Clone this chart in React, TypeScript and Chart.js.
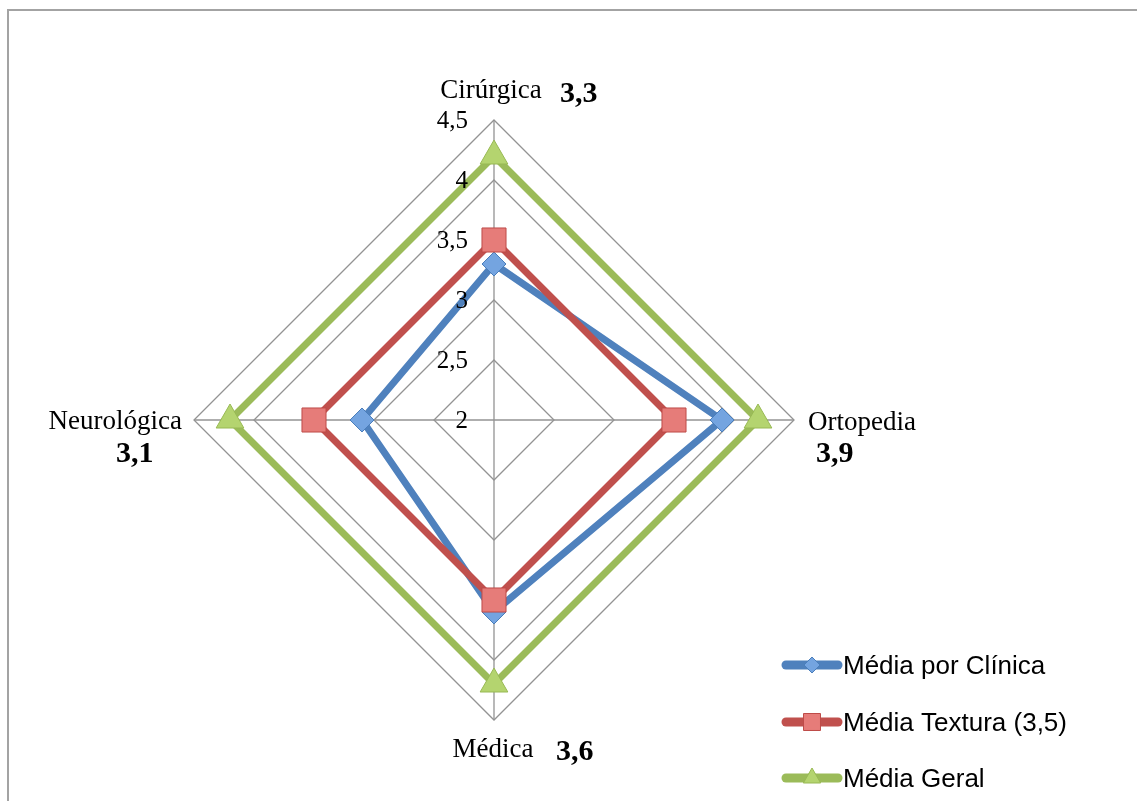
import React, { useEffect, useRef } from "react";
import { Chart, registerables } from "chart.js";

Chart.register(...registerables);

const categories = ["Cirúrgica", "Ortopedia", "Médica", "Neurológica"];
const categoryValueLabels = ["3,3", "3,9", "3,6", "3,1"];
const seriesNames = ["Média por Clínica", "Média Textura (3,5)", "Média Geral"];
const mediaPorClinica = [3.3, 3.9, 3.6, 3.1];
const mediaTextura = [3.5, 3.5, 3.5, 3.5];
const mediaGeral = [4.2, 4.2, 4.2, 4.2];
const tickValues = [2, 2.5, 3, 3.5, 4, 4.5];
const tickLabels = ["2", "2,5", "3", "3,5", "4", "4,5"];

const lineColors = ["#4F81BD", "#C0504D", "#9BBB59"];
const markerFills = ["#74A4E0", "#E67C79", "#B4D46F"];
const markerBorders = ["#4A7EBB", "#BE4B48", "#98B954"];
const markerStyles = ["rectRot", "rect", "triangle"];
const markerRadii = [12, 17, 16];

const SERIF = "'Liberation Serif', 'Times New Roman', serif";
const SANS = "'Liberation Sans', Arial, sans-serif";

function drawMarker(ctx: CanvasRenderingContext2D, style: string, x: number, y: number, r: number) {
  ctx.beginPath();
  if (style === "rectRot") {
    ctx.moveTo(x, y - r);
    ctx.lineTo(x + r, y);
    ctx.lineTo(x, y + r);
    ctx.lineTo(x - r, y);
    ctx.closePath();
  } else if (style === "rect") {
    const s = r * Math.SQRT1_2;
    ctx.rect(x - s, y - s, 2 * s, 2 * s);
  } else {
    for (let k = 0; k < 3; k++) {
      const a = (k * 2 * Math.PI) / 3;
      const px = x + Math.sin(a) * r;
      const py = y - Math.cos(a) * r;
      if (k === 0) ctx.moveTo(px, py);
      else ctx.lineTo(px, py);
    }
    ctx.closePath();
  }
  ctx.fill();
  ctx.stroke();
}

const overlayPlugin = {
  id: "overlay",
  afterDraw(chart: any) {
    const ctx: CanvasRenderingContext2D = chart.ctx;
    const scale = chart.scales.r;
    const cx = scale.xCenter;
    const cy = scale.yCenter;
    const R = scale.drawingArea;
    ctx.save();

    // frame
    ctx.strokeStyle = "#A3A3A3";
    ctx.lineWidth = 2;
    ctx.strokeRect(8, 10, 2000, 2000);

    // tick labels
    ctx.fillStyle = "#000";
    ctx.font = `25px ${SERIF}`;
    ctx.textAlign = "right";
    ctx.textBaseline = "middle";
    tickValues.forEach((v, i) => {
      const d = scale.getDistanceFromCenterForValue(v);
      ctx.fillText(tickLabels[i], cx - 26, cy - d + 1);
    });

    // point labels + bold values
    const regular = `27px ${SERIF}`;
    const bold = `bold 30px ${SERIF}`;
    ctx.textBaseline = "alphabetic";
    // top
    let p = scale.getPointPosition(0, R);
    ctx.font = regular;
    ctx.textAlign = "center";
    ctx.fillText(categories[0], p.x - 3, p.y - 22);
    ctx.font = bold;
    ctx.textAlign = "left";
    ctx.fillText(categoryValueLabels[0], p.x + 66, p.y - 18);
    // right
    p = scale.getPointPosition(1, R);
    ctx.font = regular;
    ctx.textAlign = "left";
    ctx.fillText(categories[1], p.x + 14, p.y + 10);
    ctx.font = bold;
    ctx.fillText(categoryValueLabels[1], p.x + 22, p.y + 42);
    // bottom
    p = scale.getPointPosition(2, R);
    ctx.font = regular;
    ctx.textAlign = "center";
    ctx.fillText(categories[2], p.x - 1, p.y + 37);
    ctx.font = bold;
    ctx.textAlign = "left";
    ctx.fillText(categoryValueLabels[2], p.x + 62, p.y + 40);
    // left
    p = scale.getPointPosition(3, R);
    ctx.font = regular;
    ctx.textAlign = "right";
    ctx.fillText(categories[3], p.x - 12, p.y + 9);
    ctx.font = bold;
    ctx.textAlign = "left";
    ctx.fillText(categoryValueLabels[3], p.x - 78, p.y + 42);

    // legend
    const rows = [665, 722, 778];
    chart.data.datasets.forEach((ds: any, i: number) => {
      const y = rows[i];
      ctx.strokeStyle = lineColors[i];
      ctx.lineWidth = 9;
      ctx.lineCap = "round";
      ctx.beginPath();
      ctx.moveTo(786, y);
      ctx.lineTo(838, y);
      ctx.stroke();
      ctx.lineCap = "butt";
      ctx.fillStyle = markerFills[i];
      ctx.strokeStyle = markerBorders[i];
      ctx.lineWidth = 1;
      drawMarker(ctx, markerStyles[i], 812, y, [8, 12, 10][i]);
      ctx.fillStyle = "#000";
      ctx.font = `26px ${SANS}`;
      ctx.textAlign = "left";
      ctx.textBaseline = "middle";
      ctx.fillText(ds.label, 843, y + 2);
    });
    ctx.restore();
  },
};

export default function App() {
  const ref = useRef<HTMLCanvasElement | null>(null);
  useEffect(() => {
    if (!ref.current) return;
    const series = [mediaPorClinica, mediaTextura, mediaGeral];
    const chart = new Chart(ref.current, {
      type: "radar",
      data: {
        labels: categories,
        datasets: series.map((data, i) => ({
          label: seriesNames[i],
          data,
          borderColor: lineColors[i],
          borderWidth: 7,
          fill: false,
          tension: 0,
          pointStyle: markerStyles[i] as any,
          pointRadius: markerRadii[i],
          pointHoverRadius: markerRadii[i],
          pointBackgroundColor: markerFills[i],
          pointBorderColor: markerBorders[i],
          pointBorderWidth: 1,
          order: 3 - i,
        })),
      },
      options: {
        responsive: false,
        animation: false,
        devicePixelRatio: 1,
        layout: { padding: { left: 194, right: 343, top: 120, bottom: 81 } },
        plugins: {
          legend: { display: false },
          tooltip: { enabled: false },
        },
        scales: {
          r: {
            min: 2,
            max: 4.5,
            ticks: { stepSize: 0.5, display: false },
            grid: { color: "#939393", lineWidth: 1.3, circular: false },
            angleLines: { color: "#939393", lineWidth: 1.3 },
            pointLabels: { display: false },
          },
        },
      },
      plugins: [overlayPlugin],
    });
    return () => chart.destroy();
  }, []);
  return (
    <div style={{ position: "fixed", left: 0, top: 0, width: 1137, height: 801, background: "#fff" }}>
      <canvas ref={ref} width={1137} height={801} style={{ display: "block" }} />
    </div>
  );
}
